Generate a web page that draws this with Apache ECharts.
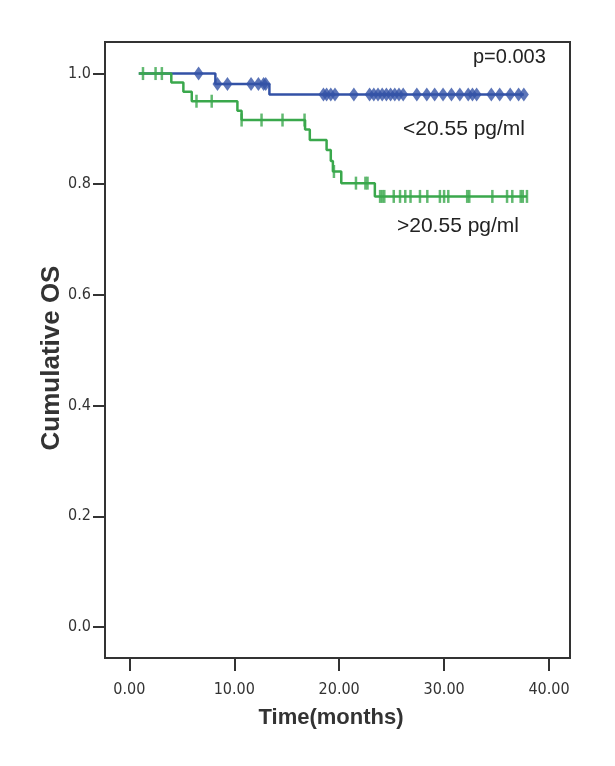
<!DOCTYPE html>
<html>
<head>
<meta charset="utf-8">
<script src="https://cdn.jsdelivr.net/npm/echarts@6/dist/echarts.min.js"></script>
<style>html,body{margin:0;padding:0;background:#fff}#c{width:615px;height:766px}</style>
</head>
<body>
<div id="c"></div>
<script>
// ---- data ----
var xTicks = [0, 10, 20, 30, 40];
var yTicks = [0, 0.2, 0.4, 0.6, 0.8, 1.0];

// group "<20.55 pg/ml" (blue)
var lowStart = 0.9;
var lowEnd = 37.6;
var lowEventTimes = [8.2, 13.35];
var lowEventSurv  = [0.981, 0.962];
var lowCensor = [6.6, 8.4, 9.35, 11.6, 12.3, 12.8, 13.0, 18.5, 18.8, 19.2, 19.6, 21.4,
  22.9, 23.3, 23.7, 24.1, 24.5, 24.9, 25.3, 25.7, 26.1, 27.4, 28.35, 29.1, 29.9, 30.7, 31.5,
  32.3, 32.7, 33.1, 34.5, 35.3, 36.3, 37.1, 37.6];

// group ">20.55 pg/ml" (green)
var highStart = 0.9;
var highEnd = 37.9;
var highEventTimes = [4.0, 5.15, 5.95, 10.3, 10.7, 16.75, 17.2, 18.8, 19.2, 19.4, 20.2, 23.4];
var highEventSurv  = [0.984, 0.967, 0.950, 0.933, 0.916, 0.899, 0.880, 0.862, 0.842, 0.823, 0.802, 0.778];
var highCensor = [1.3, 2.5, 3.1, 6.4, 7.85, 10.7, 12.6, 14.6, 16.7, 19.5, 21.6, 22.5, 22.7,
  23.9, 24.1, 24.3, 25.2, 25.8, 26.3, 26.8, 27.7, 28.4, 29.6, 30.0, 30.4, 32.2, 32.4,
  34.6, 36.0, 36.5, 37.3, 37.5, 37.9];

var pText = 'p=0.003';
var lowLabel = '<20.55 pg/ml';
var highLabel = '>20.55 pg/ml';

// ---- helpers ----
function stepLine(start, end, times, surv) {
  var pts = [[start, 1.0]];
  var prev = 1.0;
  for (var i = 0; i < times.length; i++) {
    pts.push([times[i], prev]);
    pts.push([times[i], surv[i]]);
    prev = surv[i];
  }
  pts.push([end, prev]);
  return pts;
}
function survAt(t, times, surv) {
  var s = 1.0;
  for (var i = 0; i < times.length; i++) if (times[i] <= t) s = surv[i];
  return s;
}
function censorPts(cens, times, surv) {
  return cens.map(function (t) { return [t, survAt(t, times, surv)]; });
}

var BLUE = '#3352a6', GREEN = '#3aa84c';
var tickFont = '"Liberation Sans Narrow","DejaVu Sans Condensed","Liberation Sans",sans-serif';

var chart = echarts.init(document.getElementById('c'), null, {renderer: 'canvas'});
chart.setOption({
  animation: false,
  backgroundColor: '#fff',
  grid: {left: 105, right: 45, top: 42, bottom: 108, show: true, borderColor: '#333', borderWidth: 2},
  xAxis: {
    type: 'value', min: -2.32, max: 42.0,
    splitLine: {show: false},
    axisLine: {show: true, onZero: false, lineStyle: {color: '#333', width: 2}},
    axisTick: {show: true, length: 13, customValues: xTicks, lineStyle: {color: '#333', width: 2}},
    axisLabel: {customValues: xTicks, margin: 24, color: '#333', fontSize: 16, fontFamily: tickFont,
      formatter: function (v) { return v.toFixed(2); }}
  },
  yAxis: {
    type: 'value', min: -0.056, max: 1.057,
    splitLine: {show: false},
    axisLine: {show: true, onZero: false, lineStyle: {color: '#333', width: 2}},
    axisTick: {show: true, length: 12, customValues: yTicks, lineStyle: {color: '#333', width: 2}},
    axisLabel: {customValues: yTicks, margin: 14, color: '#333', fontSize: 16, fontFamily: tickFont,
      formatter: function (v) { return v.toFixed(1); }}
  },
  series: [
    {type: 'line', data: stepLine(lowStart, lowEnd, lowEventTimes, lowEventSurv), showSymbol: false,
      lineStyle: {color: BLUE, width: 2.5}, z: 2},
    {type: 'line', data: stepLine(highStart, highEnd, highEventTimes, highEventSurv), showSymbol: false,
      lineStyle: {color: GREEN, width: 2.5}, z: 3},
    {type: 'scatter', data: censorPts(lowCensor, lowEventTimes, lowEventSurv), symbol: 'diamond',
      symbolSize: [10, 14], itemStyle: {color: BLUE}, z: 4},
    {type: 'scatter', data: censorPts(highCensor, highEventTimes, highEventSurv), symbol: 'rect',
      symbolSize: [2.5, 13], itemStyle: {color: GREEN}, z: 5}
  ],
  graphic: [
    {type: 'text', left: 473, top: 47, style: {text: pText, fontSize: 20, fill: '#222',
      fontFamily: '"Liberation Sans",Arial,sans-serif'}},
    {type: 'text', left: 403, top: 119, style: {text: lowLabel, fontSize: 21, fill: '#222',
      fontFamily: '"Liberation Sans",Arial,sans-serif'}},
    {type: 'text', left: 397, top: 216, style: {text: highLabel, fontSize: 21, fill: '#222',
      fontFamily: '"Liberation Sans",Arial,sans-serif'}},
    {type: 'text', x: 331, y: 718, style: {text: 'Time(months)', fontSize: 22, fontWeight: 'bold',
      fill: '#333', align: 'center', verticalAlign: 'middle', fontFamily: '"Liberation Sans",Arial,sans-serif'}},
    {type: 'text', x: 52, y: 358, rotation: Math.PI / 2, style: {text: 'Cumulative OS', fontSize: 26,
      fontWeight: 'bold', fill: '#333', align: 'center', verticalAlign: 'middle',
      fontFamily: '"Liberation Sans",Arial,sans-serif'}}
  ]
});
</script>
</body>
</html>
